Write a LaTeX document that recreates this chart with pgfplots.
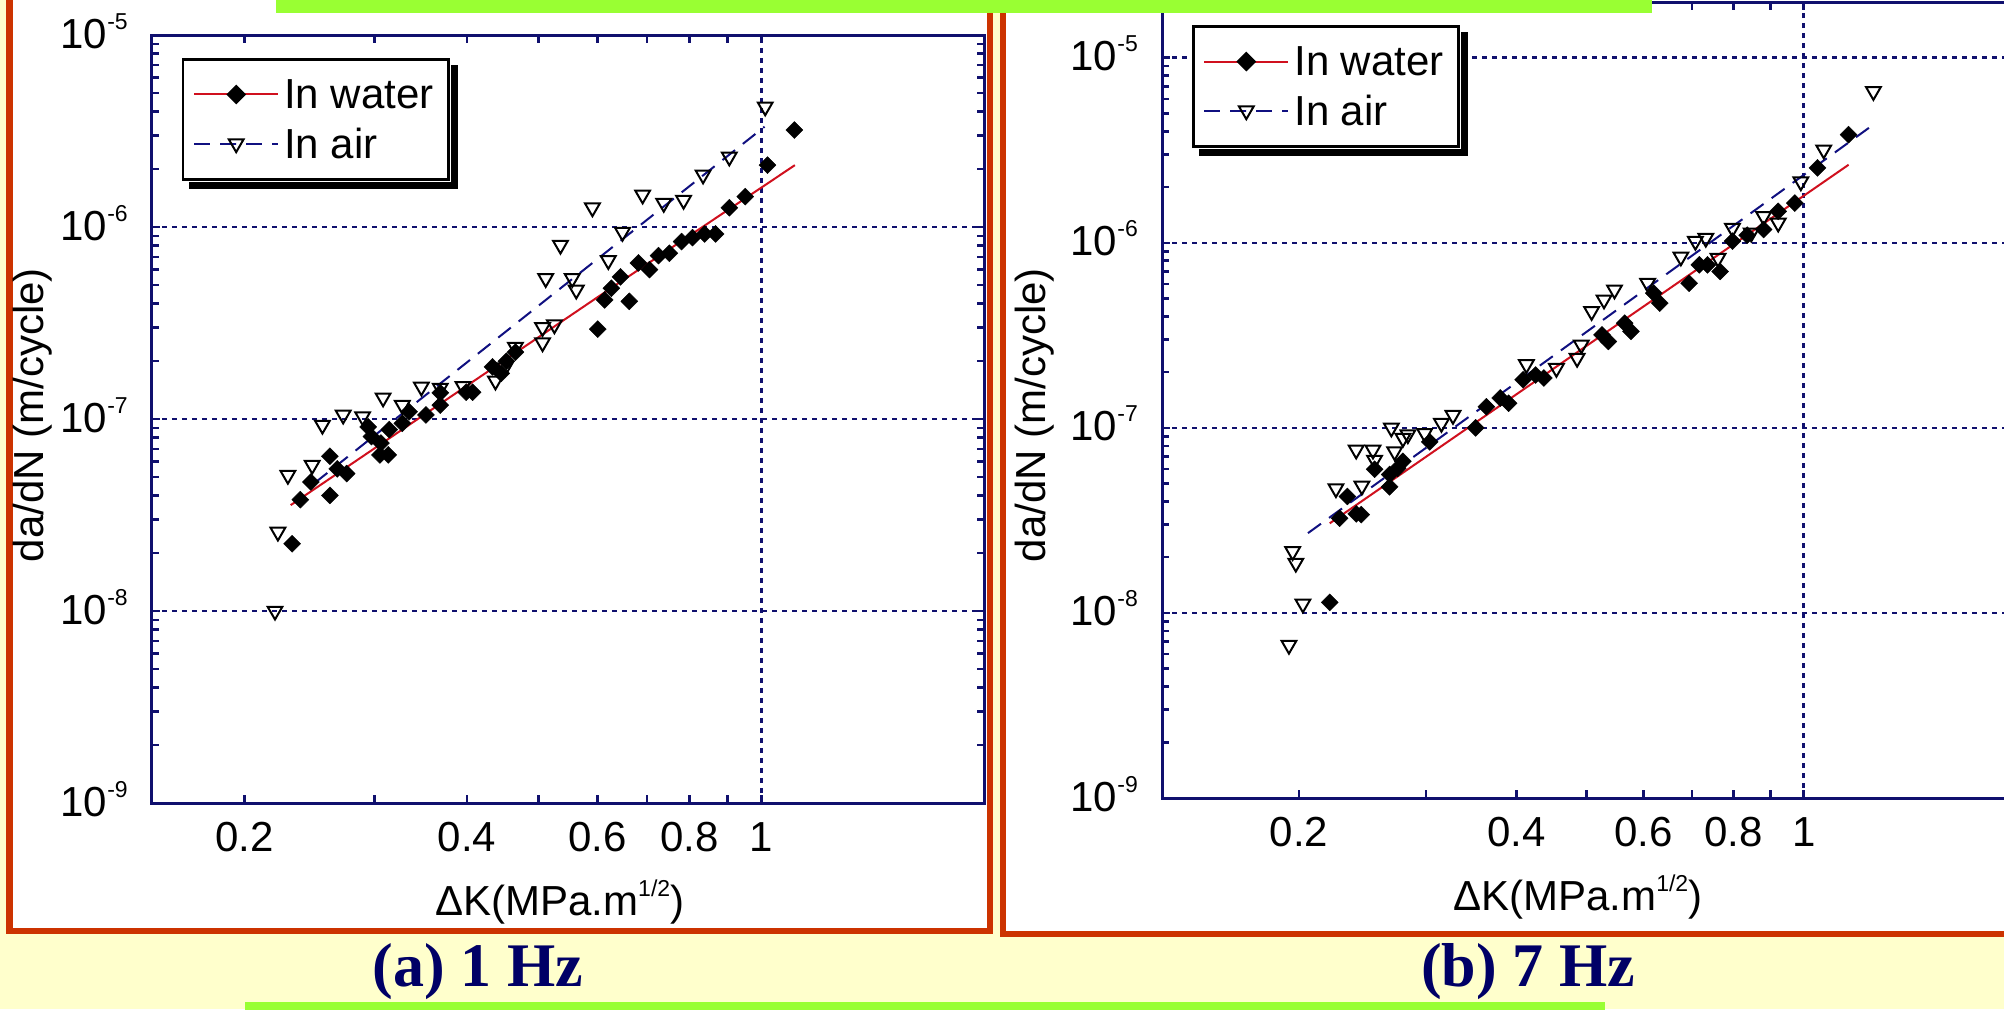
\documentclass[border=0pt]{standalone}
\usepackage{fontspec}
\setmainfont{Liberation Sans}
\newfontfamily\capfont{Liberation Serif}
\usepackage{pgfplots}
\pgfplotsset{compat=1.18}

\definecolor{bgyellow}{HTML}{FFFFCC}
\definecolor{frameorange}{HTML}{CC3300}
\definecolor{barlime}{HTML}{99FF33}
\definecolor{axnavy}{HTML}{10106E}
\definecolor{capnavy}{HTML}{000066}
\definecolor{fitred}{HTML}{D0101E}
\definecolor{fitblue}{HTML}{101080}

\newcommand\tsup[1]{\raisebox{19pt}{\fontsize{23}{23}\selectfont #1}}
\newcommand\plotfont{\fontsize{42}{46}\selectfont}

\pgfplotsset{
  legend image code/.code={
    \draw[mark repeat=2, mark phase=2, #1] plot coordinates {(0pt,0pt) (42pt,0pt) (84pt,0pt)};
  },
  crack/.style={
    scale only axis,
    axis line style={axnavy, line width=3pt},
    every tick/.append style={axnavy, line width=2.5pt},
    major tick length=8pt, minor tick length=7pt,
    tick align=inside,
    xtick={0.2,0.3,0.4,0.5,0.6,0.7,0.8,0.9,1},
    xticklabels={0.2,,0.4,,0.6,,0.8,,1},
    ytick={1e-9,1e-8,1e-7,1e-6,1e-5},
    yticklabels={10\tsup{-9},10\tsup{-8},10\tsup{-7},10\tsup{-6},10\tsup{-5}},
    minor ytick={2e-9,3e-9,4e-9,5e-9,6e-9,7e-9,8e-9,9e-9,
                 2e-8,3e-8,4e-8,5e-8,6e-8,7e-8,8e-8,9e-8,
                 2e-7,3e-7,4e-7,5e-7,6e-7,7e-7,8e-7,9e-7,
                 2e-6,3e-6,4e-6,5e-6,6e-6,7e-6,8e-6,9e-6},
    ymajorgrids,
    major grid style={axnavy, line width=2.5pt, dash pattern=on 5pt off 5pt},
    extra x ticks={1}, extra x tick labels={},
    extra x tick style={grid=major, major tick length=0pt},
    every tick label/.append style={font=\plotfont, inner sep=0pt},
    xticklabel style={anchor=north, yshift=-19pt},
    yticklabel style={anchor=base east, xshift=-24pt, yshift=-13pt},
    label style={font=\plotfont},
    xlabel={ΔK(MPa.m\tsup{1/2})},
    ylabel={da/dN (m/cycle)},
    legend cell align=left,
    legend style={
      anchor=north west, draw=black, line width=2.5pt, fill=white,
      font=\plotfont, inner xsep=10pt, inner ysep=15pt,
      nodes={inner sep=5pt}, row sep=8pt,
    },
  },
  water/.style={only marks, mark=square*, mark size=6pt,
    mark options={rotate=45, draw=black, fill=black}},
  air/.style={only marks, mark=triangle, mark size=8.5pt,
    mark options={rotate=180, draw=black, line width=2pt}},
  waterfit/.style={fitred, line width=2pt},
  airfit/.style={fitblue, line width=2pt, dash pattern=on 16pt off 10pt},
}

\begin{document}
\begin{tikzpicture}
\clip (0pt,0pt) rectangle (2004pt,1009pt);
\fill[bgyellow] (0pt,0pt) rectangle (2004pt,1009pt);
\filldraw[fill=white, draw=frameorange, line width=6.5pt] (9.5pt,78pt) rectangle (990pt,1040pt);
\filldraw[fill=white, draw=frameorange, line width=6.5pt] (1003pt,75pt) rectangle (2040pt,1040pt);

% (a) 1 Hz
\begin{axis}[crack, xmode=log, ymode=log,
  at={(152pt,206pt)}, anchor=south west,
  width=832pt, height=768pt,
  xmin=0.15, xmax=2, ymin=1e-9, ymax=1e-5,
  xlabel style={at={(axis description cs:0.49,0)}, anchor=north, yshift=-77pt, inner sep=0pt},
  ylabel style={at={(axis description cs:0,0.505)}, anchor=center, yshift=119pt, inner sep=0pt},
  legend style={at={(axis description cs:0.036,0.970)}, name=legA},
]
\addlegendimage{fitred, line width=2pt, mark=square*, mark size=6pt, mark options={rotate=45, draw=black, fill=black, solid}}
\addlegendentry{In water}
\addlegendimage{fitblue, line width=2pt, dash pattern=on 16pt off 10pt, mark=triangle, mark size=8.5pt, mark options={rotate=180, draw=black, solid}}
\addlegendentry{In air}

\addplot[air, forget plot] table {
x y
0.22 1.0e-8
0.222 2.58e-8
0.229 5.1e-8
0.247 5.75e-8
0.255 9.3e-8
0.272 1.05e-7
0.289 1.03e-7
0.308 1.29e-7
0.327 1.18e-7
0.347 1.47e-7
0.368 1.45e-7
0.395 1.48e-7
0.437 1.58e-7
0.45 1.85e-7
0.465 2.37e-7
0.506 2.5e-7
0.506 3.0e-7
0.525 3.1e-7
0.562 4.7e-7
0.511 5.4e-7
0.555 5.4e-7
0.621 6.7e-7
0.535 8.05e-7
0.649 9.4e-7
0.591 1.26e-6
0.691 1.47e-6
0.738 1.33e-6
0.785 1.38e-6
0.834 1.87e-6
0.905 2.32e-6
1.012 4.23e-6
};
\addplot[airfit, forget plot] coordinates {(0.249,4.65e-8) (1.01,3.33e-6)};
\addplot[waterfit, forget plot] coordinates {(0.231,3.56e-8) (0.6,4.3e-7) (1.11,2.1e-6)};
\addplot[water, forget plot] table {
x y
0.232 2.24e-8
0.238 3.8e-8
0.246 4.7e-8
0.261 4.0e-8
0.261 6.4e-8
0.267 5.5e-8
0.275 5.2e-8
0.294 9.1e-8
0.297 8.1e-8
0.305 6.5e-8
0.306 7.5e-8
0.313 6.5e-8
0.314 8.8e-8
0.327 9.5e-8
0.334 1.09e-7
0.352 1.05e-7
0.368 1.18e-7
0.368 1.37e-7
0.399 1.38e-7
0.407 1.38e-7
0.433 1.87e-7
0.445 1.73e-7
0.452 2.0e-7
0.465 2.23e-7
0.601 2.94e-7
0.614 4.17e-7
0.663 4.1e-7
0.627 4.8e-7
0.645 5.5e-7
0.682 6.5e-7
0.706 6.0e-7
0.726 7.1e-7
0.751 7.3e-7
0.78 8.4e-7
0.807 8.8e-7
0.838 9.2e-7
0.867 9.2e-7
0.905 1.26e-6
0.951 1.44e-6
1.019 2.1e-6
1.108 3.2e-6
};
\end{axis}

% (b) 7 Hz
\begin{axis}[crack, xmode=log, ymode=log,
  at={(1162pt,211pt)}, anchor=south west,
  width=859pt, height=796pt,
  xmin=0.1292, xmax=2, ymin=1e-9, ymax=2e-5,
  xlabel style={at={(axis description cs:0.484,0)}, anchor=north, yshift=-77pt, inner sep=0pt},
  ylabel style={at={(axis description cs:0,0.481)}, anchor=center, yshift=127pt, inner sep=0pt},
  legend style={at={(axis description cs:0.035,0.971)}, name=legB},
]
\addlegendimage{fitred, line width=2pt, mark=square*, mark size=6pt, mark options={rotate=45, draw=black, fill=black, solid}}
\addlegendentry{In water}
\addlegendimage{fitblue, line width=2pt, dash pattern=on 16pt off 10pt, mark=triangle, mark size=8.5pt, mark options={rotate=180, draw=black, solid}}
\addlegendentry{In air}

\addplot[air, forget plot] table {
x y
0.1937 6.7e-9
0.2025 1.12e-8
0.198 1.86e-8
0.196 2.15e-8
0.225 4.7e-8
0.2444 4.86e-8
0.240 7.6e-8
0.2532 7.6e-8
0.2545 6.7e-8
0.2685 1.0e-7
0.2713 7.45e-8
0.2786 8.8e-8
0.283 9.2e-8
0.2986 9.35e-8
0.315 1.06e-7
0.3268 1.17e-7
0.4130 2.2e-7
0.4545 2.1e-7
0.4855 2.38e-7
0.492 2.81e-7
0.5085 4.26e-7
0.529 4.92e-7
0.547 5.57e-7
0.608 6.05e-7
0.676 8.4e-7
0.708 1.02e-6
0.732 1.06e-6
0.761 8.26e-7
0.797 1.2e-6
0.846 1.13e-6
0.88 1.39e-6
0.922 1.28e-6
0.991 2.14e-6
1.066 3.18e-6
1.249 6.58e-6
};
\addplot[airfit, forget plot] coordinates {(0.2058,2.7e-8) (1.249,4.35e-6)};
\addplot[waterfit, forget plot] coordinates {(0.2206,3.05e-8) (1.154,2.64e-6)};
\addplot[water, forget plot] table {
x y
0.2206 1.14e-8
0.2277 3.25e-8
0.2333 4.26e-8
0.240 3.43e-8
0.2439 3.4e-8
0.2545 5.98e-8
0.267 4.8e-8
0.267 5.6e-8
0.274 6.05e-8
0.2786 6.6e-8
0.3034 8.4e-8
0.3513 1.0e-7
0.3635 1.3e-7
0.380 1.45e-7
0.3903 1.36e-7
0.4088 1.82e-7
0.4253 1.93e-7
0.4367 1.86e-7
0.5256 3.18e-7
0.5363 2.93e-7
0.565 3.68e-7
0.5765 3.32e-7
0.620 5.35e-7
0.632 4.72e-7
0.694 6.05e-7
0.717 7.6e-7
0.736 7.6e-7
0.766 7.0e-7
0.797 1.02e-6
0.835 1.1e-6
0.88 1.18e-6
0.922 1.48e-6
0.972 1.64e-6
1.045 2.54e-6
1.154 3.84e-6
};
\end{axis}

% legend shadows
\foreach \L in {legA,legB}{
  \fill[black] ([shift={(7pt,-8pt)}]\L.south west) rectangle ([shift={(8pt,-1pt)}]\L.south east);
  \fill[black] ([shift={(1pt,-8pt)}]\L.south east) rectangle ([shift={(8pt,-7pt)}]\L.north east);
}

\fill[barlime] (276pt,996pt) rectangle (1652pt,1012pt);
\fill[barlime] (245pt,-2pt) rectangle (1605pt,7pt);
\node[capnavy, font=\capfont\bfseries\fontsize{62}{62}\selectfont] at (478pt,37pt) {(a) 1 Hz};
\node[capnavy, font=\capfont\bfseries\fontsize{62}{62}\selectfont] at (1528pt,37pt) {(b) 7 Hz};
\end{tikzpicture}
\end{document}
